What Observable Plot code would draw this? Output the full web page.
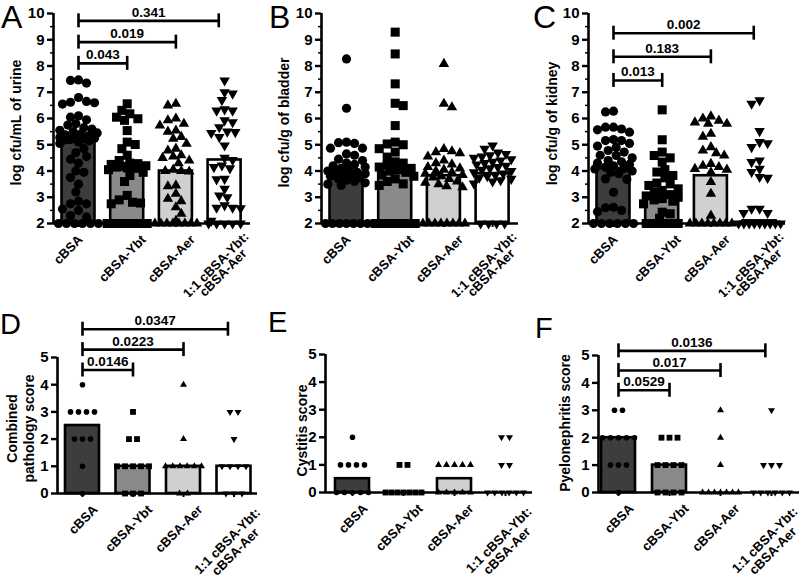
<!DOCTYPE html>
<html><head><meta charset="utf-8">
<script src="https://cdn.jsdelivr.net/npm/d3@7"></script>
<script src="https://cdn.jsdelivr.net/npm/@observablehq/plot@0.6"></script>
<style>
html,body{margin:0;padding:0;background:#fff;}
#fig{position:relative;width:805px;height:585px;overflow:hidden;font-family:"Liberation Sans",Arial,sans-serif;background:#fff;}
.panel{position:absolute;}
.panel svg{overflow:visible;background:transparent;}
.cover{position:absolute;left:0;top:297px;width:805px;height:288px;background:#fff;}
.letter{position:absolute;font-family:"Liberation Sans",Arial,sans-serif;line-height:1;color:#000;}
</style></head><body><div id="fig"></div>
<script>
// ---------- categories ----------
const groups = ["cBSA", "cBSA-Ybt", "cBSA-Aer", "1:1 cBSA-Ybt:\ncBSA-Aer"];
const barColors = ["#3d3d3d", "#8a8a8a", "#d0d0d0", "#ffffff"];

// ---------- A: log cfu/mL of urine ----------
const aCBSA = [7.45,7.35,7.47,6.8,6.62,6.65,6.6,6.55,6.1,6.05,5.95,5.8,5.75,5.65,5.6,5.55,5.5,5.45,5.42,5.38,5.35,5.3,5.28,5.25,5.22,5.2,5.18,5.15,5.1,5.05,4.85,4.7,4.55,4.45,4.3,4.0,3.95,3.75,3.5,3.2,2.85,2.75,2.75,2.55,2.5,2.3,2.25,2,2,2,2,2,2];
const aYbt = [6.56,6.31,6.18,6.05,5.99,5.93,5.54,5.1,5.01,4.85,4.6,4.4,4.3,4.28,4.25,4.2,4.18,4.15,4.12,4.1,4.05,3.95,3.83,3.6,3.07,2.9,2.81,2.78,2.75,2,2,2,2,2,2];
const aAer = [6.56,6.5,6.0,5.93,5.8,5.73,5.54,5.5,5.3,5.23,5.04,4.85,4.78,4.6,4.55,4.5,4.4,4.3,4.05,4.0,4.0,3.98,3.45,3.42,3.13,2.94,2.85,2.62,2.37,2.1,2,2,2,2,2,2,2,2];
const aMix = [7.45,7.0,6.95,6.7,6.35,6.3,6.3,5.93,5.86,5.67,5.5,5.48,5.45,5.29,4.97,4.5,4.42,4.21,4.15,4.1,3.7,3.68,3.32,3.07,3.0,2.69,2.6,2.6,2.58,2.1,2,2,2,2,2];
const aBars = [5.2, 4.15, 4.0, 4.42];
const aP = ["0.043", "0.019", "0.341"];

// ---------- B: log cfu/g of bladder ----------
const bCBSA = [8.27,6.39,5.08,5.05,5.1,4.87,4.87,4.65,4.6,4.45,4.4,4.3,4.25,4.2,4.15,4.1,4.05,4.0,3.95,3.92,3.9,3.88,3.85,3.8,3.75,3.7,3.65,3.6,3.55,3.5,3.45,2,2,2,2,2,2,2];
const bYbt = [9.29,8.46,7.32,6.58,6.49,5.73,5.1,5.03,5.0,4.85,4.72,4.53,4.35,4.3,4.22,4.15,4.1,4.05,4.0,3.95,3.85,3.8,3.7,3.6,3.51,3.45,2,2,2,2,2,2];
const bAer = [8.08,6.56,6.43,4.84,4.75,4.72,4.68,4.55,4.4,4.3,4.25,4.15,4.1,4.05,4.0,3.95,3.9,3.85,3.8,3.75,3.7,3.6,3.55,3.5,3.42,3.38,2,2,2,2,2,2,2,2];
const bMix = [4.97,4.85,4.7,4.65,4.6,4.55,4.5,4.45,4.4,4.35,4.3,4.25,4.2,4.15,4.1,4.05,4.0,3.95,3.9,3.85,3.8,3.75,3.7,3.65,3.6,3.52,2,2,2,2];
const bBars = [3.9, 4.15, 3.82, 3.9];
const bP = [];

// ---------- C: log cfu/g of kidney ----------
const cCBSA = [6.25,6.28,5.67,5.67,5.6,5.57,5.48,5.2,5.16,5.16,5.05,4.95,4.9,4.78,4.72,4.6,4.59,4.5,4.4,4.35,4.3,4.25,4.2,4.15,4.1,4.08,4.0,3.95,3.9,3.7,3.68,3.19,2.62,2.6,2.5,2.45,2,2,2,2,2,2];
const cYbt = [6.33,5.19,4.72,4.59,4.5,4.34,4.05,3.96,3.83,3.74,3.54,3.51,3.45,3.32,3.26,3.2,3.1,3.05,3.0,2.95,2.9,2.85,2.75,2.43,2.37,2.2,2,2,2,2,2];
const cAer = [6.08,6.0,5.92,5.85,5.8,5.8,5.42,5.31,4.91,4.78,4.68,4.59,4.27,4.2,4.15,4.08,4.05,3.95,3.58,3.13,2.3,2,2,2,2,2,2,2,2];
const cMix = [6.69,6.56,5.52,5.1,5.06,4.91,4.4,4.34,4.08,3.96,3.77,3.74,2.56,2.56,2.4,2.4,2,2,2,2,2,2,2,2,2];
const cBars = [4.1, 3.08, 3.82, 2.1];
const cP = ["0.013", "0.183", "0.002"];

// ---------- D: combined pathology score ----------
const dCBSA = [4,3,3,3,3,2,2,2,1,0];
const dYbt = [3,2,2,1,1,1,1,1,0,0,0];
const dAer = [4,2,1,1,1,1,1,1,0,0];
const dMix = [3,3,2,1,1,1,1,0,0,0];
const dBars = [2.5, 1, 1, 1];
const dP = ["0.0146", "0.0223", "0.0347"];

// ---------- E: cystitis score ----------
const eCBSA = [2,1,1,1,1,0,0,0,0,0];
const eYbt = [1,1,0,0,0,0,0,0,0];
const eAer = [1,1,1,1,1,0,0,0,0,0];
const eMix = [2,2,1,1,0,0,0,0,0,0];
const eBars = [0.5, 0, 0.5, 0];
const eP = [];

// ---------- F: pyelonephritis score ----------
const fCBSA = [3,3,2,2,2,2,2,1,1,1,0];
const fYbt = [2,2,2,1,1,1,1,0,0,0,0];
const fAer = [3,2,1,0,0,0,0,0,0,0];
const fMix = [3,1,1,1,0,0,0,0,0,0];
const fBars = [2, 1, 0, 0];
const fP = ["0.0529", "0.017", "0.0136"];

// ---------- symbols ----------
const sqrt3 = Math.sqrt(3);
const invTriangle = {draw(ctx, size) {
  const y = -Math.sqrt(size / (sqrt3 * 3));
  ctx.moveTo(0, -y * 2);
  ctx.lineTo(-sqrt3 * y, y);
  ctx.lineTo(sqrt3 * y, y);
  ctx.closePath();
}};

// ---------- horizontal spreading of points (computed) ----------
function spread(vals, k, diam, maxHalf, rowSpacing, rowMode) {
  const n = vals.length, off = new Array(n).fill(0);
  const byVal = d3.group(d3.range(n), i => vals[i]);
  const placed = [], rest = [];
  for (const [v, idxs] of byVal) {
    if (rowMode || idxs.length >= 3) {
      const m = idxs.length;
      const sp = m > 1 ? Math.min(rowSpacing, 2 * maxHalf / (m - 1)) : 0;
      idxs.forEach((i, j) => { off[i] = (j - (m - 1) / 2) * sp; placed.push({x: off[i], y: v * k}); });
    } else rest.push(...idxs);
  }
  rest.sort((a, b) => vals[b] - vals[a]);
  let flip = 1;
  for (const i of rest) {
    const y = vals[i] * k;
    const cands = [0];
    for (let s = diam / 3; s <= maxHalf + 1e-6; s += diam / 3) cands.push(flip * s, -flip * s);
    let chosen = null, best = -1, bestC = 0;
    for (const c of cands) {
      let m = Infinity;
      for (const p of placed) m = Math.min(m, Math.hypot(p.x - c, p.y - y));
      if (m >= diam) { chosen = c; break; }
      if (m > best) { best = m; bestC = c; }
    }
    if (chosen === null) chosen = bestC;
    off[i] = chosen; placed.push({x: chosen, y});
    flip = -flip;
  }
  return off;
}

// ---------- panel layouts ----------
const topLayout = {width: 270, height: 300, mt: 13, mb: 77, ml: 53, mr: 20, c0: 78, step: 48.7,
  ymin: 2, ymax: 10, minor: true, r: [4.6, 5.1, 3.9, 3.9], diam: 8, maxHalf: 21, rowSp: 8, rowMode: false, halfBar: 16.5,
  labDx: [2, 16.5, 17], labDy: 8, labA: [22, 5], labB: [20, 22]};
const botLayout = {width: 270, height: 295, ymin: 0, ymax: 5, minor: false, r: [2.8, 3.3, 2.6, 2.6], diam: 6, maxHalf: 18, rowSp: 8, rowMode: true, halfBar: 17,
  labDx: [13, 17, 17], labDy: 8, labA: [24, 11], labB: [23, 31]};

const panels = [
  {id: "A", left: 0, top: 0, L: topLayout, series: [aCBSA, aYbt, aAer, aMix], bars: aBars, p: aP, label: "log cfu/mL of urine",
   labDx: -38, labDy: 4, br0: 8.1, brStep: 0.81, brEnds: [1, 2, 2.88], letter: {x: 1, y: 1, s: 32}},
  {id: "B", left: 268, top: 0, L: topLayout, series: [bCBSA, bYbt, bAer, bMix], bars: bBars, p: bP, label: "log cfu/g of bladder",
   labDx: -38, labDy: 4, br0: 0, brStep: 0, brEnds: [], letter: {x: 269, y: 1, s: 32}},
  {id: "C", left: 535, top: 0, L: topLayout, series: [cCBSA, cYbt, cAer, cMix], bars: cBars, p: cP, label: "log cfu/g of kidney",
   labDx: -37, labDy: 5, br0: 7.45, brStep: 0.9, brEnds: [1, 2, 2.88], letter: {x: 533, y: 1, s: 32}},
  {id: "D", left: 0, top: 290, L: {...botLayout, mt: 67, mb: 92, ml: 57, mr: 13, c0: 82, step: 50.5}, series: [dCBSA, dYbt, dAer, dMix], bars: dBars, p: dP,
   label: "Combined\npathology score", labDx: -37.5, labDy: 3, br0: 4.54, brStep: 0.75, brEnds: [1, 2, 2.88], letter: {x: 0, y: 310, s: 29}},
  {id: "E", left: 268, top: 290, L: {...botLayout, mt: 64, mb: 93, ml: 57, mr: 6, c0: 84, step: 51}, series: [eCBSA, eYbt, eAer, eMix], bars: eBars, p: eP,
   label: "Cystitis score", labDx: -24, labDy: 7, br0: 0, brStep: 0, brEnds: [], letter: {x: 268, y: 308, s: 29}},
  {id: "F", left: 535, top: 290, L: {...botLayout, mt: 65, mb: 93, ml: 63, mr: 6, c0: 83, step: 51}, series: [fCBSA, fYbt, fAer, fMix], bars: fBars, p: fP,
   label: "Pyelonephritis score", labDx: -34, labDy: -1, br0: 3.73, brStep: 0.72, brEnds: [1, 2, 2.88], letter: {x: 535, y: 314, s: 29}}
];

const symbols = ["circle", "square", "triangle", invTriangle];
const fig = document.getElementById("fig");
const FONT = "Liberation Sans, Arial, sans-serif";

const singleIdx = groups.map((g, i) => i).filter(i => !groups[i].includes("\n"));
const multiIdx = groups.map((g, i) => i).filter(i => groups[i].includes("\n"));

panels.forEach((P, pi) => {
  if (pi === 3) { const cv = document.createElement("div"); cv.className = "cover"; fig.appendChild(cv); }
  const L = P.L;
  const innerH = L.height - L.mt - L.mb;
  const k = innerH / (L.ymax - L.ymin);        // px per y unit
  const x0 = (L.ml - L.c0) / L.step;
  const x1 = (L.width - L.mr - L.c0) / L.step;
  const hw = L.halfBar / L.step;
  const marks = [];

  // bars (medians)
  P.bars.forEach((v, g) => {
    marks.push(Plot.rect([{g, v}], {x1: d => d.g - hw, x2: d => d.g + hw, y1: () => L.ymin, y2: d => d.v,
      fill: barColors[g], stroke: "black", strokeWidth: 2.6}));
  });

  // points
  P.series.forEach((vals, g) => {
    const offs = spread(vals, k, L.diam, L.maxHalf, L.rowSp, L.rowMode);
    const pts = vals.map((v, i) => ({x: g + offs[i] / L.step, y: v}));
    marks.push(Plot.dot(pts, {x: "x", y: "y", r: L.r[g], symbol: symbols[g], fill: "black", stroke: "none"}));
  });

  // axes
  marks.push(Plot.ruleY([L.ymin], {strokeWidth: 2.6}));
  marks.push(Plot.ruleX([{x: x0}], {x: "x", y1: () => L.ymin, y2: () => L.ymax, strokeWidth: 2.6}));
  marks.push(Plot.axisY({ticks: d3.range(L.ymin, L.ymax + 1), tickSize: 6, strokeWidth: 2.4, tickPadding: 3,
    fontSize: 15, fontWeight: "bold", label: null, tickFormat: d => String(d)}));
  if (L.minor) marks.push(Plot.axisY({ticks: d3.range(L.ymin + 0.5, L.ymax, 1), tickSize: 3, strokeWidth: 1.5, tickFormat: () => "", label: null}));
  marks.push(Plot.axisX({ticks: [0, 1, 2, 3], tickFormat: () => "", tickSize: 4, strokeWidth: 2, label: null}));

  // category labels (rotated axis text)
  const catStyle = {tickRotate: -45, tickSize: 0, tickPadding: 6, fontSize: 13, fontWeight: "bold", label: null};
  singleIdx.forEach((i, j) => {
    marks.push(Plot.axisX({ticks: [i], tickFormat: t => groups[t], dx: L.labDx[j], dy: L.labDy, ...catStyle}));
  });
  marks.push(Plot.axisX({ticks: multiIdx, tickFormat: t => groups[t].split("\n")[0], dx: L.labA[0], dy: L.labA[1], ...catStyle}));
  marks.push(Plot.axisX({ticks: multiIdx, tickFormat: t => groups[t].split("\n")[1], dx: L.labB[0], dy: L.labB[1], ...catStyle}));

  // y label
  marks.push(Plot.text([P.label], {text: d => d, frameAnchor: "left", rotate: -90, dx: P.labDx, dy: P.labDy,
    fontSize: 14, fontWeight: "bold", textAnchor: "middle", lineAnchor: "middle", lineHeight: 1.2}));

  // significance brackets
  if (P.p.length) {
    const tk = 7 / k;
    const brs = P.p.map((p, j) => ({p, L: P.br0 + j * P.brStep, xa: 0, xb: P.brEnds[j]}));
    marks.push(Plot.ruleY(brs, {y: "L", x1: "xa", x2: "xb", strokeWidth: 2.6}));
    const ends = brs.flatMap(b => [{x: b.xa, y1: b.L - tk, y2: b.L + tk}, {x: b.xb, y1: b.L - tk, y2: b.L + tk}]);
    marks.push(Plot.ruleX(ends, {x: "x", y1: "y1", y2: "y2", strokeWidth: 2.6}));
    marks.push(Plot.text(brs, {x: b => (b.xa + b.xb) / 2, y: "L", text: "p", dy: -4, lineAnchor: "bottom",
      fontSize: 13.5, fontWeight: "bold"}));
  }

  const chart = Plot.plot({
    width: L.width, height: L.height,
    marginTop: L.mt, marginBottom: L.mb, marginLeft: L.ml, marginRight: L.mr,
    x: {type: "linear", domain: [x0, x1]},
    y: {type: "linear", domain: [L.ymin, L.ymax]},
    style: {fontFamily: FONT, fontSize: "14px", background: "transparent", overflow: "visible", color: "black"},
    marks
  });
  const wrap = document.createElement("div");
  wrap.className = "panel";
  wrap.style.left = P.left + "px";
  wrap.style.top = P.top + "px";
  wrap.appendChild(chart);
  fig.appendChild(wrap);

  const lt = document.createElement("div");
  lt.className = "letter";
  lt.textContent = P.id;
  lt.style.left = P.letter.x + "px";
  lt.style.top = P.letter.y + "px";
  lt.style.fontSize = P.letter.s + "px";
  fig.appendChild(lt);
});
</script>
</body></html>
